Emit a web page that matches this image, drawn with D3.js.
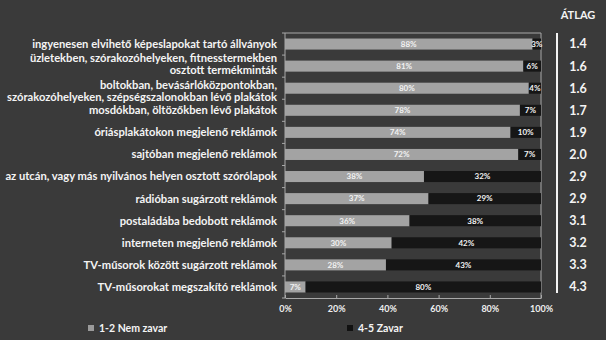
<!DOCTYPE html>
<html>
<head>
<meta charset="utf-8">
<script src="https://cdn.jsdelivr.net/npm/d3@7"></script>
<style>
  body { margin: 0; background: #3a3a3a; }
  svg { display: block; font-family: Lato, "Open Sans", sans-serif; font-weight: bold; }
</style>
</head>
<body>
<div id="chart"></div>
<script>
// categories (multi-line labels split with '|')
const categories = [
    'ingyenesen elvihető képeslapokat tartó állványok',
    'üzletekben, szórakozóhelyeken, fitnesstermekben|osztott termékminták',
    'boltokban, bevásárlóközpontokban,|szórakozóhelyeken, szépségszalonokban lévő plakátok',
    'mosdókban, öltözőkben lévő plakátok',
    'óriásplakátokon megjelenő reklámok',
    'sajtóban megjelenő reklámok',
    'az utcán, vagy más nyilvános helyen osztott szórólapok',
    'rádióban sugárzott reklámok',
    'postaládába bedobott reklámok',
    'interneten megjelenő reklámok',
    'TV-műsorok között sugárzott reklámok',
    'TV-műsorokat megszakító reklámok'
];
const nemZavar = [88, 81, 80, 78, 74, 72, 38, 37, 36, 30, 28, 7];
const zavar = [3, 6, 4, 7, 10, 7, 32, 29, 38, 42, 43, 80];
const atlag = ['1.4', '1.6', '1.6', '1.7', '1.9', '2.0', '2.9', '2.9', '3.1', '3.2', '3.3', '4.3'];
const seriesNames = ['1-2 Nem zavar', '4-5 Zavar'];
const xTicks = [0, 0.2, 0.4, 0.6, 0.8, 1];

const width = 606, height = 340;
const margin = { top: 33, right: 65, bottom: 42, left: 285 };
const colors = ['#a3a3a3', '#161616'];
const axisColor = '#a8a8a8';

const svg = d3.select('#chart').append('svg')
    .attr('width', width).attr('height', height);
svg.append('rect').attr('width', width).attr('height', height).attr('fill', '#3a3a3a');

const innerW = width - margin.left - margin.right,
    innerH = height - margin.top - margin.bottom;

const chart = svg.append('g').attr('transform', `translate(${margin.left},${margin.top})`);

// 100% stacked: each row normalised to its own total
const rows = categories.map((c, i) => ({ cat: c, a: nemZavar[i], b: zavar[i], avg: atlag[i] }));
const stacked = d3.stack().keys(['a', 'b']).offset(d3.stackOffsetExpand)(rows);

const x = d3.scaleLinear([0, 1], [0, innerW]);
const y = d3.scaleBand(categories, [0, innerH]).paddingInner(0.5).paddingOuter(0.25);

// frame (top and right)
chart.append('path')
    .attr('d', `M0,0H${innerW}V${innerH}`)
    .attr('fill', 'none').attr('stroke', axisColor).attr('stroke-width', 1);

// bars
const groups = chart.selectAll('.serie')
    .data(stacked)
    .join('g')
    .attr('class', 'serie')
    .attr('fill', (d, i) => colors[i]);

groups.selectAll('rect')
    .data(d => d)
    .join('rect')
    .attr('x', d => x(d[0]))
    .attr('y', d => y(d.data.cat))
    .attr('width', d => x(d[1]) - x(d[0]))
    .attr('height', y.bandwidth());

// value labels
groups.each(function (s) {
    d3.select(this).selectAll('text')
        .data(s)
        .join('text')
        .attr('x', d => (x(d[0]) + x(d[1])) / 2)
        .attr('y', d => y(d.data.cat) + y.bandwidth() / 2)
        .attr('dy', '0.35em')
        .attr('text-anchor', 'middle')
        .attr('fill', '#f2f2f2')
        .style('font-size', '8px')
        .text(d => d.data[s.key] + '%');
});

// x axis
const axisX = chart.append('g')
    .attr('transform', `translate(0,${innerH})`)
    .call(d3.axisBottom(x).tickValues(xTicks).tickFormat(d3.format('.0%')).tickSizeInner(-3).tickSizeOuter(0).tickPadding(8));
axisX.select('.domain').attr('stroke', axisColor);
axisX.selectAll('.tick line').attr('stroke', axisColor);
axisX.selectAll('text').attr('fill', '#eeeeee').style('font-size', '9px')
    .style('font-family', 'Lato, sans-serif').style('font-weight', 'bold');

// y axis: ticks between bands
const axisY = chart.append('g');
axisY.append('line').attr('x1', 0).attr('x2', 0).attr('y1', 0).attr('y2', innerH)
    .attr('stroke', axisColor);
axisY.selectAll('.yt')
    .data(d3.range(categories.length + 1))
    .join('line')
    .attr('class', 'yt')
    .attr('x1', -3).attr('x2', 0)
    .attr('y1', i => i * innerH / categories.length)
    .attr('y2', i => i * innerH / categories.length)
    .attr('stroke', axisColor);

// category labels; the two two-line rows are pushed apart so they don't collide
const labels = chart.selectAll('.cat')
    .data(categories)
    .join('text')
    .attr('class', 'cat')
    .attr('x', -8)
    .attr('y', d => y(d) + y.bandwidth() / 2)
    .attr('text-anchor', 'end')
    .attr('fill', '#f4f4f4')
    .style('font-size', '11.2px');
labels.each(function (d, idx) {
    const lines = d.split('|');
    const sel = d3.select(this);
    const first = idx === 1 ? -8.5 : -3.5;   // px offset of first line from band centre
    lines.forEach((t, i) => {
        sel.append('tspan')
            .attr('x', -8)
            .attr('dy', lines.length === 1 ? '0.35em' : (i === 0 ? first + 3.9 : 12))
            .text(t);
    });
});

// average column
const avgX = margin.left + innerW + 37;
svg.append('line')
    .attr('x1', margin.left + innerW + 16).attr('x2', margin.left + innerW + 16)
    .attr('y1', margin.top).attr('y2', margin.top + innerH - 5)
    .attr('stroke', '#f4f4f4').attr('stroke-width', 2);
svg.append('text')
    .attr('x', avgX).attr('y', 15).attr('dy', '0.35em')
    .attr('text-anchor', 'middle').attr('fill', '#f4f4f4')
    .style('font-size', '11px')
    .text('ÁTLAG');
svg.selectAll('.avg')
    .data(rows)
    .join('text')
    .attr('class', 'avg')
    .attr('x', avgX)
    .attr('y', d => margin.top + y(d.cat) + y.bandwidth() / 2)
    .attr('dy', '0.35em')
    .attr('text-anchor', 'middle')
    .attr('fill', '#f4f4f4')
    .style('font-size', '12.5px')
    .text(d => d.avg);

// legend
const legendPos = [[88, 328], [347, 328]];
const legend = svg.selectAll('.legend')
    .data(seriesNames)
    .join('g')
    .attr('class', 'legend')
    .attr('transform', (d, i) => `translate(${legendPos[i][0]},${legendPos[i][1]})`);
legend.append('rect')
    .attr('x', 0).attr('y', -3).attr('width', 6).attr('height', 6)
    .attr('fill', (d, i) => i === 1 ? '#111' : '#9a9a9a');
legend.append('text')
    .attr('x', 11).attr('dy', '0.35em')
    .attr('fill', '#f4f4f4')
    .style('font-size', '10.5px')
    .text(d => d);
</script>
</body>
</html>
